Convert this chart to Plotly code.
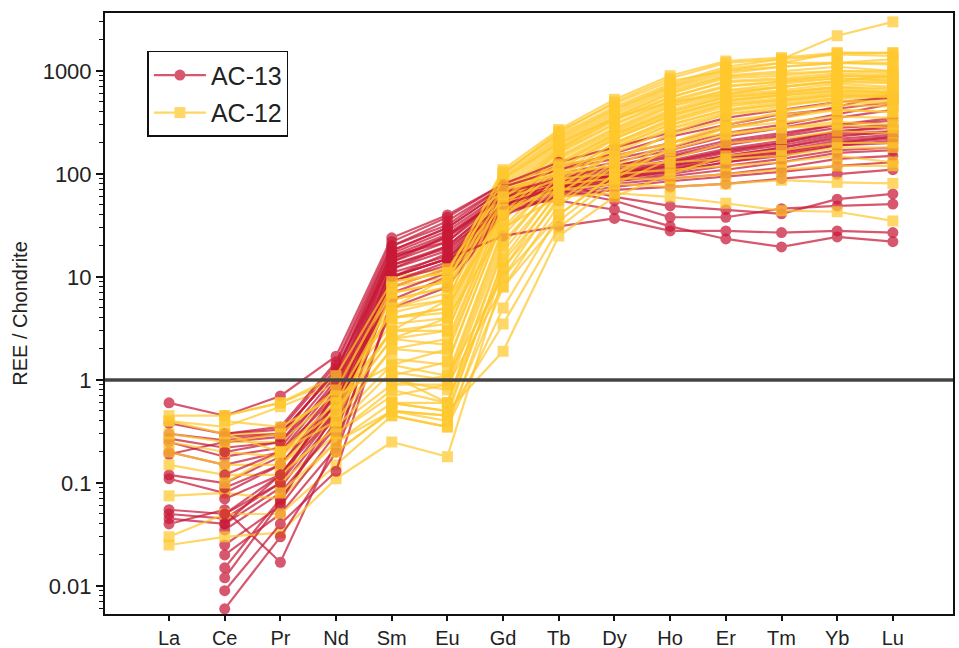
import plotly.graph_objects as go

elements = ["La", "Ce", "Pr", "Nd", "Sm", "Eu", "Gd", "Tb", "Dy", "Ho", "Er", "Tm", "Yb", "Lu"]
y_tick_vals = [0.01, 0.1, 1, 10, 100, 1000]
y_tick_text = ["0.01", "0.1", "1", "10", "100", "1000"]
reference_level = 1

N = None
# AC-13 chondrite-normalised REE patterns
ac13 = [
    [0.60, 0.45, 0.70, 1.7, 24, 40, 80, 120, 150, 200, 280, 350, 450, 600],
    [0.38, 0.30, 0.33, 1.4, 20, 35, 75, 110, 140, 180, 250, 300, 380, 480],
    [0.30, 0.26, 0.30, 1.2, 18, 30, 70, 100, 130, 170, 230, 280, 350, 420],
    [0.27, 0.22, 0.25, 1.1, 17, 28, 65, 95, 120, 150, 200, 240, 300, 350],
    [0.25, 0.18, 0.22, 1.0, 16, 26, 62, 90, 115, 145, 190, 230, 280, 300],
    [0.20, 0.15, 0.20, 0.9, 15, 24, 60, 88, 110, 135, 175, 210, 260, 280],
    [0.19, 0.25, 0.28, 1.3, 14, 22, 58, 85, 105, 130, 165, 200, 250, 260],
    [0.12, 0.10, 0.18, 0.8, 13, 20, 55, 80, 100, 125, 160, 190, 240, 250],
    [0.11, 0.08, 0.15, 0.7, 12, 18, 52, 78, 98, 120, 150, 180, 220, 240],
    [0.055, 0.05, 0.12, 0.6, 11, 16, 50, 75, 95, 115, 145, 170, 210, 230],
    [0.05, 0.045, 0.10, 0.5, 10, 15, 48, 72, 92, 110, 140, 160, 200, 220],
    [0.045, 0.04, 0.09, 0.45, 9, 14, 46, 70, 90, 105, 130, 150, 190, 200],
    [0.04, 0.055, 0.017, 0.25, 8, 12, 45, 68, 85, 100, 120, 140, 170, 180],
    [N, 0.035, 0.08, 0.35, 14, 25, 60, 85, 100, 120, 150, 180, 230, 260],
    [N, 0.025, 0.06, 0.30, 12, 20, 55, 80, 95, 110, 140, 165, 200, 230],
    [N, 0.02, 0.05, 0.22, 10, 17, 50, 75, 90, 105, 130, 155, 190, 210],
    [N, 0.015, 0.07, 0.40, 9, 13, 45, 70, 85, 95, 110, 130, 160, 170],
    [N, 0.012, 0.065, 0.50, 7, 11, 42, 65, 80, 90, 100, 115, 140, 150],
    [N, 0.009, 0.04, 0.13, 6, 10, 40, 62, 75, 85, 95, 105, 120, 130],
    [N, 0.006, 0.03, 0.20, 5, 8, 42, 60, 70, 75, 80, 90, 100, 110],
    [N, 0.20, 0.25, 0.9, 18, 30, 70, 80, 60, 49, 45, 41, 57, 64],
    [N, 0.12, 0.20, 0.7, 15, 25, 60, 70, 55, 38, 38, 46, 49, 51],
    [N, 0.09, 0.15, 0.6, 10, 15, 25, 31, 37, 28, 28, 27, 28, 27],
    [N, 0.07, 0.12, 0.5, 10, 15, 50, 55, 45, 31, 23.4, 19.6, 24.5, 22],
    [N, 0.30, 0.35, 1.5, 22, 38, 80, 130, 180, 250, 350, 420, 500, 550],
    [N, 0.28, 0.30, 1.2, 20, 32, 75, 110, 160, 230, 300, 380, 430, 500],
    [N, 0.05, 0.10, 0.8, 16, 22, 65, 90, 120, 160, 210, 250, 300, 330],
    [N, 0.04, 0.12, 0.6, 13, 19, 50, 75, 100, 130, 170, 200, 260, 290],
]

# AC-12 chondrite-normalised REE patterns
ac12 = [
    [N, N, N, N, 10, 12, 110, 270, 530, 900, 1250, 1350, 1500, 1500],
    [N, N, N, 1.2, 8, 10, 100, 250, 500, 850, 1200, 1300, 1450, 1400],
    [0.45, 0.45, 0.6, 1.0, 6, 8, 90, 220, 420, 700, 1000, 1200, 1200, 1300],
    [0.40, 0.35, 0.55, 0.9, 5, 6, 80, 200, 380, 650, 900, 1000, 1100, 1000],
    [N, 0.30, 0.30, 0.8, 4, 5, 70, 180, 350, 600, 850, 900, 1000, 950],
    [0.30, 0.25, 0.25, 0.7, 3.5, 4, 60, 170, 330, 550, 800, 850, 950, 900],
    [N, N, 0.20, 0.6, 3, 3.5, 55, 160, 300, 500, 700, 800, 900, 850],
    [0.25, 0.20, 0.18, 0.5, 2.5, 3, 50, 150, 280, 480, 650, 750, 850, 800],
    [N, N, N, 0.45, 2, 2.5, 45, 140, 260, 450, 600, 700, 800, 780],
    [0.20, 0.15, 0.15, 0.4, 1.4, 2, 40, 130, 250, 420, 580, 650, 750, 700],
    [N, N, N, N, 1.1, 1.5, 35, 120, 240, 400, 550, 620, 700, 650],
    [0.15, 0.12, 0.12, 0.35, 0.9, 1.1, 30, 110, 230, 380, 520, 600, 680, 620],
    [N, N, 0.10, 0.3, 0.7, 0.9, 25, 100, 220, 360, 500, 580, 650, 600],
    [0.075, 0.08, 0.07, 0.25, 0.6, 0.6, 20, 90, 200, 340, 480, 550, 620, 580],
    [N, N, N, 0.2, 0.5, 0.45, 15, 80, 190, 320, 450, 520, 600, 560],
    [0.03, 0.05, 0.05, 0.15, 0.45, 0.35, 12, 70, 180, 300, 420, 500, 580, 540],
    [0.025, 0.03, 0.033, 0.11, 0.25, 0.18, 10, 60, 170, 280, 400, 480, 550, 520],
    [N, N, N, N, 9, 11, 105, 240, 450, 750, 1100, 1300, 2200, 3000],
    [N, N, N, 0.9, 7, 9, 95, 230, 430, 720, 1050, 1200, 1500, 1500],
    [N, N, N, N, 5, 7, 85, 210, 400, 680, 950, 1100, 1200, 1150],
    [N, N, N, 0.7, 4.5, 6, 75, 190, 360, 620, 880, 950, 1000, 1000],
    [N, N, N, N, 4, 4.5, 65, 175, 340, 560, 780, 820, 900, 880],
    [N, N, 0.15, 0.5, 3, 3, 58, 165, 310, 520, 720, 780, 850, 820],
    [N, N, N, N, 2.5, 2.2, 48, 145, 270, 460, 640, 700, 780, 760],
    [N, N, N, 0.4, 2, 1.8, 42, 125, 240, 400, 560, 620, 700, 680],
    [N, N, N, N, 1.6, 1.4, 38, 115, 220, 370, 520, 580, 640, 620],
    [N, N, 0.12, 0.35, 1.2, 1.0, 28, 95, 200, 330, 470, 520, 580, 560],
    [N, N, N, N, 1.0, 0.8, 22, 85, 180, 300, 420, 470, 520, 500],
    [N, N, N, 0.3, 0.8, 0.6, 18, 75, 160, 270, 380, 420, 470, 450],
    [N, N, N, N, 0.6, 0.5, 14, 65, 140, 240, 330, 380, 420, 400],
    [N, N, 0.08, 0.25, 0.5, 0.4, 8, 50, 120, 200, 280, 320, 360, 350],
    [N, N, N, N, 0.45, 0.35, 5, 40, 100, 170, 240, 280, 320, 300],
    [N, N, N, 0.2, 0.5, 0.45, 3.5, 30, 80, 140, 200, 220, 260, 250],
    [N, N, N, N, 0.6, 0.5, 1.9, 25, 60, 100, 150, 170, 200, 200],
    [N, 0.10, 0.20, 0.5, 5, 10, 60, 120, 150, 200, 250, 280, 300, 280],
    [N, 0.25, 0.30, 0.8, 8, 12, 70, 100, 120, 130, 140, 150, 180, 180],
    [N, N, 0.20, 0.6, 6, 8, 55, 90, 100, 110, 120, 130, 150, 130],
    [N, N, N, 0.6, 3, 6, 40, 80, 90, 90, 100, 110, 120, 120],
    [N, N, N, N, 4, 5, 45, 70, 80, 75, 80, 87, 83, 81],
    [N, N, N, 0.5, 2.5, 4, 30, 60, 65, 60, 52, 44, 43, 35],
    [N, 0.40, 0.35, 0.7, 1.4, 1.1, 10, 40, 100, 200, 300, 400, 500, 480],
    [N, N, N, N, 0.9, 0.9, 8, 35, 90, 180, 280, 350, 420, 400],
    [N, 0.45, 0.60, 1.1, 9, 11, 100, 260, 480, 800, 1000, 1100, 1200, 1200],
    [0.40, 0.30, 0.20, 0.4, 7, 9, 90, 200, 350, 500, 600, 700, 800, 900],
    [N, N, N, N, 1.1, 0.6, 12, 55, 130, 250, 380, 450, 550, 600],
]

RED = "rgb(200,25,55)"
YEL = "rgb(255,200,45)"

fig = go.Figure()


def add_series(vals, name, color, symbol, show):
    fig.add_trace(go.Scatter(
        x=elements, y=vals, mode="lines+markers", name=name,
        legendgroup=name, showlegend=show, opacity=0.72,
        line=dict(color=color, width=2.2),
        marker=dict(color=color, symbol=symbol, size=11, line=dict(width=0)),
        connectgaps=False,
    ))


n = max(len(ac13), len(ac12))
for i in range(n):
    if i < len(ac13):
        add_series(ac13[i], "AC-13", RED, "circle", i == 0)
    if i < len(ac12):
        add_series(ac12[i], "AC-12", YEL, "square", i == 0)

fig.add_hline(y=reference_level, line=dict(color="#444444", width=3.5), layer="above")

minor_vals = [k * 10 ** e for e in range(-3, 4) for k in range(2, 10)]

fig.update_layout(
    width=959, height=648,
    margin=dict(l=105, r=6, t=13, b=34, autoexpand=False),
    paper_bgcolor="white", plot_bgcolor="white",
    font=dict(family="Liberation Sans, Arial, sans-serif", color="#222222", size=20),
    showlegend=True,
    legend=dict(
        x=0.05, y=0.937, xanchor="left", yanchor="top",
        bordercolor="#111111", borderwidth=1.5, bgcolor="white",
        font=dict(size=25), tracegroupgap=2, itemwidth=52,
    ),
    xaxis=dict(
        type="category", categoryorder="array", categoryarray=elements,
        range=[-1.15, 14.08], showgrid=False, zeroline=False, automargin=False,
        showline=True, linecolor="#111111", linewidth=2, mirror=True,
        ticks="outside", ticklen=5, tickwidth=2, tickcolor="#111111",
        tickfont=dict(size=20),
    ),
    yaxis=dict(
        type="log", range=[-2.272, 3.563], showgrid=False, zeroline=False, automargin=False,
        tickvals=y_tick_vals, ticktext=y_tick_text,
        showline=True, linecolor="#111111", linewidth=2, mirror=True,
        ticks="outside", ticklen=7, tickwidth=2, tickcolor="#111111",
        tickfont=dict(size=22),
        minor=dict(tickvals=minor_vals, ticks="outside", ticklen=4, tickwidth=1.2, tickcolor="#111111", showgrid=False),
        title=dict(text="REE / Chondrite", font=dict(size=20), standoff=10),
    ),
)

fig.write_html("out.html", config={"displayModeBar": False},
               post_script="document.body.style.margin='0';")
